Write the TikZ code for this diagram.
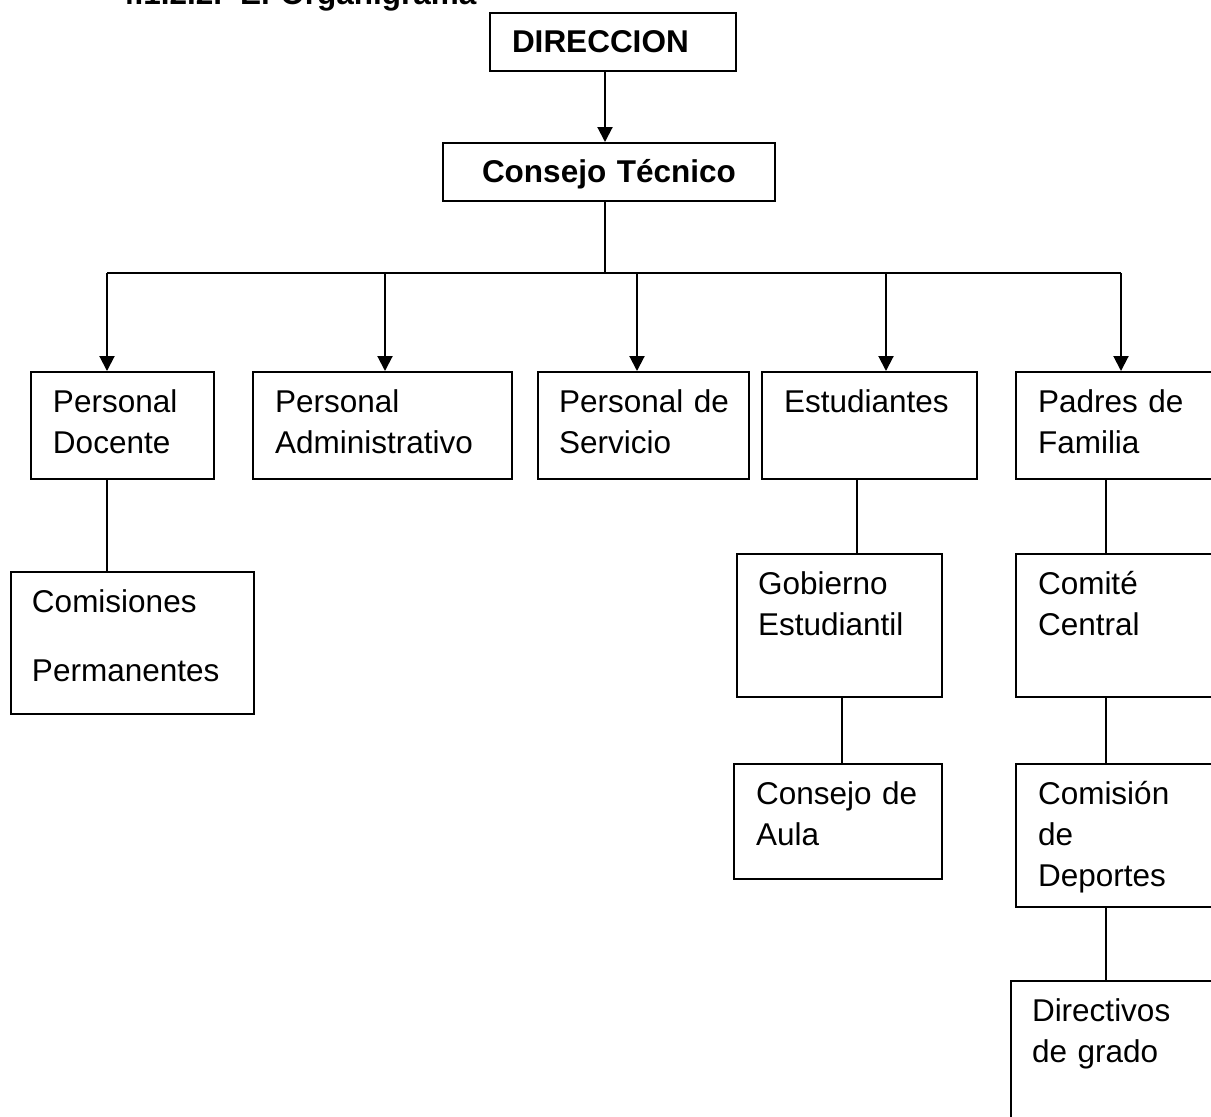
\documentclass[tikz,border=0pt]{standalone}
\usepackage{fontspec}
\setmainfont{Liberation Sans}
\usetikzlibrary{arrows.meta,fit,calc}

\begin{document}
\begin{tikzpicture}[x=0.5pt, y=-0.5pt, line width=1pt,
    every node/.style={font=\fontsize{15.75pt}{20.5pt}\selectfont},
    caja/.style={draw, line width=1pt, inner sep=0pt},
    texto/.style={anchor=base west, align=left, text width=5cm, inner sep=0pt},
    negrita/.style={texto, font=\fontsize{15.75pt}{20.5pt}\selectfont\bfseries},
    flecha/.style={-{Triangle[width=7.5pt,length=7.5pt]}}]
        \clip (0,0) rectangle (1211,1116);

        % Title (cut at the top of the page)
        \node[negrita, text width=8cm] (titulo) at (116,4) {4.1.2.2.\hspace{9pt}El Organigrama};

        % Top levels
        \node[caja, fit={(490,13) (736,71)}] (direccion) {};
        \node[negrita] (t-direccion) at ($(direccion.north west)+(22,40)$) {DIRECCION};
        \node[caja, fit={(443,143) (775,201)}] (consejo) {};
        \node[negrita] (t-consejo) at ($(consejo.north west)+(39,40)$) {Consejo Técnico};

        % Second level
        \node[caja, fit={(31,372) (214,479)}] (docente) {};
        \node[texto] (t-docente) at ($(docente.north west)+(22,41)$) {Personal\\Docente};
        \node[caja, fit={(253,372) (512,479)}] (admin) {};
        \node[texto] (t-admin) at ($(admin.north west)+(22,41)$) {Personal\\Administrativo};
        \node[caja, fit={(538,372) (749,479)}] (servicio) {};
        \node[texto] (t-servicio) at ($(servicio.north west)+(21,41)$) {Personal de\\Servicio};
        \node[caja, fit={(762,372) (977,479)}] (estudiantes) {};
        \node[texto] (t-estudiantes) at ($(estudiantes.north west)+(22,41)$) {Estudiantes};
        \node[caja, fit={(1016,372) (1240,479)}] (padres) {};
        \node[texto] (t-padres) at ($(padres.north west)+(22,41)$) {Padres de\\Familia};

        % Lower levels
        \node[caja, fit={(11,572) (254,714)}] (comisiones) {};
        \node[texto] (t-comisiones) at ($(comisiones.north west)+(21,41)$) {Comisiones\\[14pt]Permanentes};
        \node[caja, fit={(737,554) (942,697)}] (gobierno) {};
        \node[texto] (t-gobierno) at ($(gobierno.north west)+(21,41)$) {Gobierno\\Estudiantil};
        \node[caja, fit={(734,764) (942,879)}] (aula) {};
        \node[texto] (t-aula) at ($(aula.north west)+(22,41)$) {Consejo de\\Aula};
        \node[caja, fit={(1016,554) (1240,697)}] (comite) {};
        \node[texto] (t-comite) at ($(comite.north west)+(22,41)$) {Comité\\Central};
        \node[caja, fit={(1016,764) (1240,907)}] (deportes) {};
        \node[texto] (t-deportes) at ($(deportes.north west)+(22,41)$) {Comisión\\de\\Deportes};
        \node[caja, fit={(1011,981) (1240,1140)}] (directivos) {};
        \node[texto] (t-directivos) at ($(directivos.north west)+(21,41)$) {Directivos\\de grado};

        % Bus and columns
        \coordinate (bus) at (605,273);
        \coordinate (b1) at (107,273);
        \coordinate (b2) at (385,273);
        \coordinate (b3) at (637,273);
        \coordinate (b4) at (886,273);
        \coordinate (b5) at (1121,273);
        \coordinate (cole) at (857,0);
        \coordinate (colg) at (842,0);
        \coordinate (colp) at (1106,0);

        \draw[flecha] (direccion.south -| bus) -- (consejo.north -| bus);
        \draw (consejo.south -| bus) -- (bus);
        \draw (b1) -- (b5);
        \draw[flecha] (b1) -- (b1 |- docente.north);
        \draw[flecha] (b2) -- (b2 |- admin.north);
        \draw[flecha] (b3) -- (b3 |- servicio.north);
        \draw[flecha] (b4) -- (b4 |- estudiantes.north);
        \draw[flecha] (b5) -- (b5 |- padres.north);

        \draw (docente.south -| b1) -- (comisiones.north -| b1);
        \draw (estudiantes.south -| cole) -- (gobierno.north -| cole);
        \draw (gobierno.south -| colg) -- (aula.north -| colg);
        \draw (padres.south -| colp) -- (comite.north -| colp);
        \draw (comite.south -| colp) -- (deportes.north -| colp);
        \draw (deportes.south -| colp) -- (directivos.north -| colp);
    \end{tikzpicture}
\end{document}
